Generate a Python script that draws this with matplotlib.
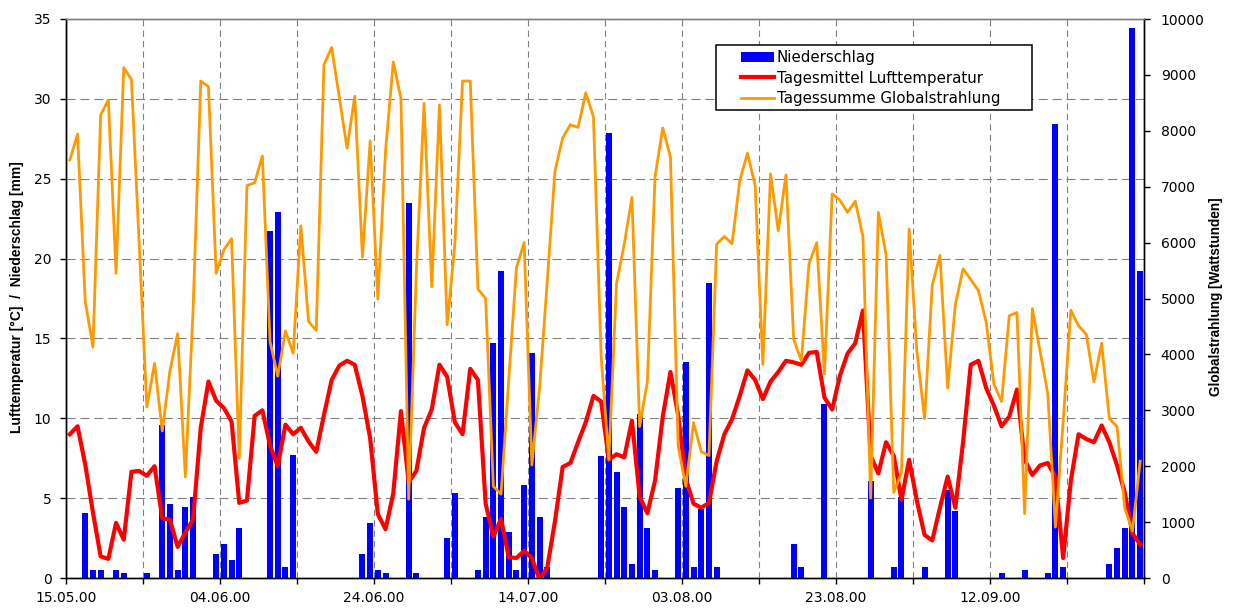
import numpy as np
import matplotlib
matplotlib.use('Agg')
import matplotlib.pyplot as plt
from matplotlib.patches import Rectangle, Patch
from matplotlib.lines import Line2D

plt.rcParams['font.family'] = 'DejaVu Sans'
plt.rcParams['lines.scale_dashes'] = False

# daily values from 15.05.00 on (140 days)
niederschlag = [
    0, 0, 4.05, 0.5, 0.5, 0, 0.5, 0.3, 0, 0,
    0.3, 0, 9.6, 4.65, 0.5, 4.45, 5.05, 0, 0, 1.5,
    2.1, 1.1, 3.1, 0, 0, 0, 21.7, 22.9, 0.7, 7.7,
    0, 0, 0, 0, 0, 0, 0, 0, 1.5, 3.45,
    0.5, 0.3, 0, 0, 23.45, 0.3, 0, 0, 0, 2.5,
    5.3, 0, 0, 0.5, 3.85, 14.7, 19.25, 2.85, 0.5, 5.85,
    14.1, 3.85, 0.7, 0, 0, 0, 0, 0, 0, 7.65,
    27.85, 6.65, 4.45, 0.85, 10.25, 3.1, 0.5, 0, 0, 5.65,
    13.5, 0.7, 4.3, 18.5, 0.7, 0, 0, 0, 0, 0,
    0, 0, 0, 0, 2.1, 0.7, 0, 0, 10.9, 0,
    0, 0, 0, 0, 6.1, 0, 0, 0.7, 5.05, 0,
    0, 0.7, 0, 0, 5.5, 4.2, 0, 0, 0, 0,
    0, 0.3, 0, 0, 0.5, 0, 0, 0.3, 28.45, 0.7,
    0, 0, 0, 0, 0, 0.85, 1.9, 3.1, 34.45, 19.25,
]

lufttemperatur = [
    9.0, 9.5, 7.1, 4.1, 1.35, 1.2, 3.45, 2.4, 6.65, 6.7,
    6.4, 7.0, 3.75, 3.65, 1.95, 2.85, 3.65, 9.4, 12.3, 11.1,
    10.65, 9.8, 4.7, 4.85, 10.15, 10.5, 8.3, 7.0, 9.6, 9.0,
    9.4, 8.55, 7.9, 10.2, 12.4, 13.3, 13.6, 13.35, 11.4, 8.75,
    4.0, 3.05, 5.3, 10.45, 6.0, 6.7, 9.4, 10.55, 13.35, 12.6,
    9.75, 9.0, 13.1, 12.4, 4.65, 2.6, 3.7, 1.3, 1.25, 1.7,
    1.25, -0.1, 0.65, 3.55, 6.95, 7.2, 8.5, 9.75, 11.4, 11.05,
    7.4, 7.75, 7.55, 9.85, 5.1, 4.05, 6.1, 10.1, 12.9, 10.2,
    6.2, 4.65, 4.4, 4.7, 7.3, 9.0, 9.95, 11.4, 13.0, 12.4,
    11.2, 12.3, 12.9, 13.6, 13.5, 13.35, 14.1, 14.15, 11.3, 10.55,
    12.65, 14.05, 14.7, 16.75, 7.65, 6.55, 8.5, 7.65, 4.9, 7.4,
    4.85, 2.7, 2.35, 4.4, 6.35, 4.4, 8.5, 13.35, 13.6, 11.9,
    10.8, 9.5, 10.1, 11.8, 7.4, 6.45, 7.05, 7.2, 6.3, 1.25,
    6.1, 9.0, 8.7, 8.5, 9.55, 8.5, 7.05, 5.35, 2.8, 2.1,
]

globalstrahlung = [
    7480, 7940, 4950, 4130, 8280, 8550, 5450, 9130, 8920, 5990,
    3060, 3840, 2630, 3710, 4370, 1810, 4790, 8890, 8790, 5450,
    5870, 6070, 2140, 7020, 7070, 7550, 4230, 3610, 4420, 4020,
    6300, 4590, 4430, 9180, 9490, 8590, 7690, 8620, 5740, 7820,
    4990, 7640, 9230, 8580, 1410, 5480, 8490, 5210, 8460, 4530,
    5970, 8890, 8890, 5170, 5000, 1640, 1500, 3550, 5550, 6000,
    2020, 3400, 5300, 7280, 7870, 8110, 8060, 8680, 8250, 3960,
    2120, 5270, 5970, 6810, 2710, 3510, 7180, 8050, 7530, 2360,
    1640, 2780, 2260, 2190, 5970, 6110, 5980, 7110, 7600, 7020,
    3820, 7230, 6210, 7210, 4270, 3890, 5620, 6000, 3650, 6870,
    6760, 6540, 6740, 6110, 1430, 6540, 5790, 1530, 1880, 6240,
    4060, 2850, 5240, 5770, 3400, 4890, 5530, 5340, 5140, 4580,
    3470, 3160, 4690, 4750, 1150, 4820, 4060, 3300, 910, 2800,
    4790, 4510, 4360, 3510, 4200, 2850, 2710, 1250, 840, 2090,
]

datum_labels = ['15.05.00', '04.06.00', '24.06.00', '14.07.00',
                '03.08.00', '23.08.00', '12.09.00']

BLUE = '#0000FF'
RED = '#FF0000'
ORANGE = '#FF9900'
GRID = '#808080'

days = np.arange(len(niederschlag)) + 0.5

W, H = 1237, 608
PL, PR, PT, PB = 66, 1144, 19, 578   # plot area in pixels
fig = plt.figure(figsize=(W / 100, H / 100), dpi=100)
ax = fig.add_axes([PL / W, 1 - PB / H, (PR - PL) / W, (PB - PT) / H])
ax2 = ax.twinx()

##################
# LEFT AXIS: bars + temperature
##################
ax.bar(days, niederschlag, width=0.78, color=BLUE, linewidth=0, zorder=2)
ax.plot(days, lufttemperatur, color=RED, lw=3, zorder=3)

ax.set_xlim(0, 140)
ax.set_ylim(0, 35)
ax.set_yticks(np.arange(0, 36, 5))

xt = np.arange(0, 141, 10)
ax.set_xticks(xt)
xl = [''] * len(xt)
for k, lab in enumerate(datum_labels):
    xl[2 * k] = lab
ax.set_xticklabels(xl)

ax.set_axisbelow(True)
ax.yaxis.grid(True, color=GRID, lw=0.8, linestyle=(0, (6.5, 3.5)))
ax.xaxis.grid(True, color=GRID, lw=0.8, linestyle=(0, (4.5, 3)))

ax.tick_params(axis='both', direction='out', length=4.5, width=1, labelsize=10, colors='black')
ax.tick_params(axis='x', pad=5)
ax.tick_params(axis='y', pad=6)

##################
# RIGHT AXIS: global radiation
##################
ax2.plot(days, globalstrahlung, color=ORANGE, lw=2, zorder=2)
ax2.set_ylim(0, 10000)
ax2.set_yticks(np.arange(0, 10001, 1000))
ax2.tick_params(axis='y', direction='out', length=4, width=1, labelsize=10, pad=8)

for a in (ax, ax2):
    for s in ('left', 'bottom', 'right'):
        a.spines[s].set_linewidth(1.0)
        a.spines[s].set_color('black')
    a.spines['top'].set_color(GRID)
    a.spines['top'].set_linewidth(1.0)

##################
# LABELS
##################
fig.text(17 / W, 1 - 297 / H, 'Lufttemperatur [°C]  /  Niederschlag [mm]',
         rotation=90, ha='center', va='center', fontsize=10,
         fontweight='bold', family='Liberation Sans')
fig.text(1216 / W, 1 - 297 / H, 'Globalstrahlung [Wattstunden]',
         rotation=90, ha='center', va='center', fontsize=9.8,
         fontweight='bold', family='Liberation Sans')

##################
# LEGEND
##################
pw, ph = PR - PL, PB - PT
x0 = (716 - PL) / pw
x1 = (1032 - PL) / pw
y0 = (PB - 110) / ph
y1 = (PB - 45) / ph
ax2.add_patch(Rectangle((x0, y0), x1 - x0, y1 - y0, transform=ax2.transAxes,
                        facecolor='white', edgecolor='black', lw=1.1, zorder=5))

handles = [Patch(facecolor=BLUE, edgecolor='none'),
           Line2D([], [], color=RED, lw=3),
           Line2D([], [], color=ORANGE, lw=2)]
labels = ['Niederschlag', 'Tagesmittel Lufttemperatur', 'Tagessumme Globalstrahlung']
leg = ax2.legend(handles, labels, loc='upper left',
                 bbox_to_anchor=((741 - PL) / pw, (PB - 50) / ph),
                 frameon=False, fontsize=10.8, borderpad=0, borderaxespad=0,
                 handlelength=2.2, handletextpad=0.2, labelspacing=0.38)
leg.set_zorder(6)

fig.savefig('out.png', dpi=100)
